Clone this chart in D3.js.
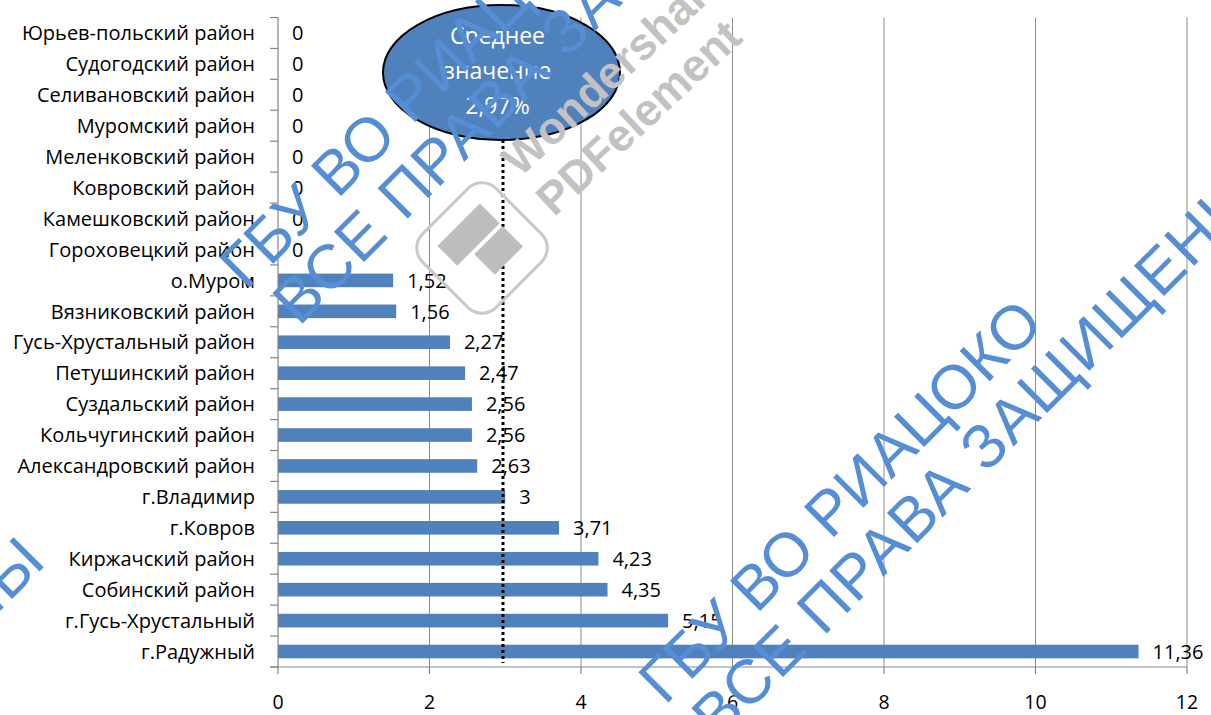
<!DOCTYPE html>
<html><head><meta charset="utf-8">
<script src="https://cdn.jsdelivr.net/npm/d3@7"></script>
<style>body{margin:0;background:#fff} svg{display:block}</style>
</head><body><svg id="c" width="1211" height="715"></svg>
<script>
const categories = ["Юрьев-польский район","Судогодский район","Селивановский район","Муромский район","Меленковский район","Ковровский район","Камешковский район","Гороховецкий район","о.Муром","Вязниковский район","Гусь-Хрустальный район","Петушинский район","Суздальский район","Кольчугинский район","Александровский район","г.Владимир","г.Ковров","Киржачский район","Собинский район","г.Гусь-Хрустальный","г.Радужный"];
const values = [0,0,0,0,0,0,0,0,1.52,1.56,2.27,2.47,2.56,2.56,2.63,3,3.71,4.23,4.35,5.15,11.36];
const valueLabels = ["0","0","0","0","0","0","0","0","1,52","1,56","2,27","2,47","2,56","2,56","2,63","3","3,71","4,23","4,35","5,15","11,36"];
const xTicks = [0,2,4,6,8,10,12];
const xTickLabels = ["0","2","4","6","8","10","12"];
const meanValue = 2.97;
const meanLabel = ["Среднее","значение","2,97%"];
const watermarkLines = ["ГБУ ВО РИАЦОКО","ВСЕ ПРАВА ЗАЩИЩЕНЫ"];
const pdfLines = ["Wondershare","PDFelement"];

const W = 1211, H = 715;
const m = {left:278, right:24, top:17.5, bottom:48};
const svg = d3.select("#c");
const FONT = "'Open Sans', 'Noto Sans', sans-serif";

const x = d3.scaleLinear().domain([0,12]).range([m.left, W - m.right]);
const y = d3.scaleBand().domain(categories).range([m.top, H - m.bottom]).padding(0);
const bw = y.bandwidth();
const barH = bw * 0.44;

// gridlines
svg.append("g").selectAll("line").data(xTicks.filter(d => d > 0)).join("line")
  .attr("x1", d => x(d)).attr("x2", d => x(d))
  .attr("y1", m.top).attr("y2", H - m.bottom)
  .attr("stroke", "#8c8c8c").attr("stroke-width", 1);

// bars
svg.append("g").selectAll("rect").data(categories).join("rect")
  .attr("x", x(0))
  .attr("y", (c) => y(c) + bw/2 - barH/2)
  .attr("width", (c,i) => x(values[i]) - x(0))
  .attr("height", barH)
  .attr("fill", "#4f81bd");

// y axis
const yAxis = svg.append("g");
yAxis.append("line").attr("x1", x(0)).attr("x2", x(0)).attr("y1", m.top).attr("y2", H - m.bottom)
  .attr("stroke", "#868686").attr("stroke-width", 1.2);
const bounds = categories.map(c => y(c)).concat([H - m.bottom]);
yAxis.selectAll("line.t").data(bounds).join("line").attr("class","t")
  .attr("x1", x(0) - 8).attr("x2", x(0)).attr("y1", d => d).attr("y2", d => d)
  .attr("stroke", "#868686").attr("stroke-width", 1.2);
yAxis.selectAll("text").data(categories).join("text")
  .attr("x", x(0) - 23).attr("y", c => y(c) + bw/2).attr("dy", "0.36em")
  .attr("text-anchor", "end").attr("font-family", FONT).attr("font-size", 20)
  .attr("fill", "#000").text(c => c);

// x axis
const xAxis = svg.append("g");
xAxis.append("line").attr("x1", x(0) - 8).attr("x2", x(12)).attr("y1", H - m.bottom).attr("y2", H - m.bottom)
  .attr("stroke", "#868686").attr("stroke-width", 1.2);
xAxis.selectAll("line.t").data(xTicks).join("line").attr("class","t")
  .attr("x1", d => x(d)).attr("x2", d => x(d)).attr("y1", H - m.bottom).attr("y2", H - m.bottom + 7)
  .attr("stroke", "#868686").attr("stroke-width", 1.2);
xAxis.selectAll("text").data(xTicks).join("text")
  .attr("x", d => x(d)).attr("y", H - m.bottom + 41.5)
  .attr("text-anchor", "middle").attr("font-family", FONT).attr("font-size", 19.5)
  .attr("fill", "#000").text((d,i) => xTickLabels[i]);

// value labels
svg.append("g").selectAll("text").data(categories).join("text")
  .attr("x", (c,i) => x(values[i]) + 14).attr("y", c => y(c) + bw/2).attr("dy", "0.36em")
  .attr("font-family", FONT).attr("font-size", 20).attr("fill", "#000")
  .text((c,i) => valueLabels[i]);

// mean line
const ell = {cx: x(meanValue) - 1.5, cy: 72.5, rx: 118.5, ry: 67.5};
svg.append("line").attr("x1", x(meanValue)).attr("x2", x(meanValue))
  .attr("y1", ell.cy + ell.ry).attr("y2", H - m.bottom - 4)
  .attr("stroke", "#000").attr("stroke-width", 3).attr("stroke-dasharray", "3,3");

// callout ellipse
svg.append("ellipse").attr("cx", ell.cx).attr("cy", ell.cy).attr("rx", ell.rx).attr("ry", ell.ry)
  .attr("fill", "#4f81bd").attr("stroke", "#000").attr("stroke-width", 2);
svg.append("g").selectAll("text").data(meanLabel).join("text")
  .attr("x", ell.cx - 4).attr("y", (d,i) => 44 + i*35)
  .attr("text-anchor", "middle").attr("font-family", FONT).attr("font-size", 23)
  .attr("fill", "#fff").text(d => d);

// PDFelement watermark
const pdf = svg.append("g");
const logo = pdf.append("g").attr("transform", "translate(482,248) rotate(-45)");
logo.append("rect").attr("x", -52).attr("y", -52).attr("width", 104).attr("height", 104).attr("rx", 20)
  .attr("fill", "none").attr("stroke", "#c9c9c9").attr("stroke-width", 3);
logo.append("rect").attr("x", -30).attr("y", -33).attr("width", 60).attr("height", 28).attr("fill", "#bdbdbd");
logo.append("path").attr("d", "M-10,-1 L30,-1 L30,28 L-10,28 Z").attr("fill", "#bdbdbd");
const pdfText = pdf.append("g").attr("transform", "translate(520,178) rotate(-43)");
pdfText.selectAll("text").data(pdfLines).join("text")
  .attr("x", (d,i) => i ? -2 : 0).attr("y", (d,i) => i * 52)
  .attr("font-family", "'Liberation Sans', Arial, sans-serif").attr("font-weight", "bold")
  .attr("font-size", 45).attr("fill", "#c2c2c2").text(d => d);

// blue watermark instances
const wmOrigins = [[246,291],[665,706],[-550,1072]];
wmOrigins.forEach(o => {
  const g = svg.append("g").attr("transform", `translate(${o[0]},${o[1]}) rotate(-45)`);
  g.selectAll("text").data(watermarkLines).join("text")
    .attr("x", (d,i) => i ? 12 : 0).attr("y", (d,i) => i * 63)
    .attr("letter-spacing", (d,i) => i ? 1.5 : 0)
    .attr("font-family", "'Liberation Sans', Arial, sans-serif")
    .attr("font-size", 62).attr("fill", "#558ed5").text(d => d);
});
</script></body></html>
